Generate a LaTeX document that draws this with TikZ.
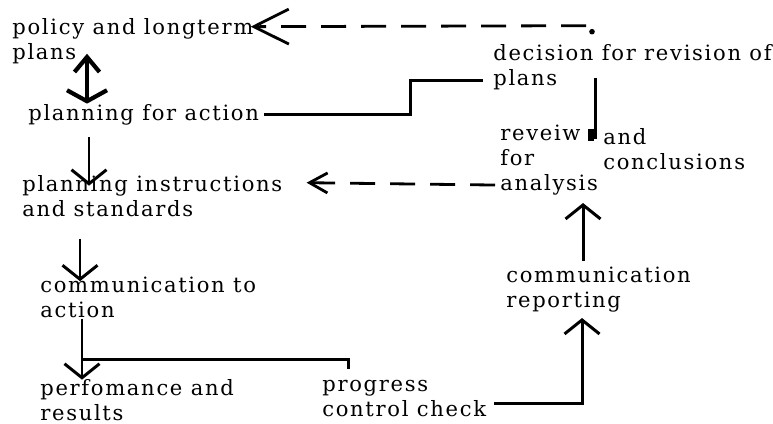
\documentclass[tikz,border=0pt]{standalone}
\usepackage{fontspec}
\setmainfont[LetterSpace=8]{DejaVu Serif}
\usetikzlibrary{arrows.meta,calc}

\begin{document}
\begin{tikzpicture}[x=0.02cm,y=-0.02cm,
	txt/.style={anchor=base west,align=left,inner sep=0pt,font=\fontsize{12}{14.2}\selectfont},
	conn/.style={line width=1.7pt},
	dconn/.style={line width=1.6pt,dash pattern=on 0.5cm off 0.3cm},
	barb/.style={-{Straight Barb[length=0.28cm,width=0.7cm]}},
	bigbarb/.style={-{Straight Barb[length=0.7cm,width=0.7cm]}},
	midbarb/.style={-{Straight Barb[length=0.36cm,width=0.4cm]}}]
	\useasboundingbox (0,0) rectangle (773,423);

	\node[txt] (pol) at (12,59) {policy and longterm\\plans}; % policy
	\node[txt] (act) at (28,120) {planning for action}; % planning
	\node[txt] (dec) at (493,85) {decision for revision of\\plans}; % decision
	\node[txt] (rev) at (500,190) {reveiw\\for\\analysis}; % review
	\node[txt] (con) at (603,169) {and\\conclusions}; % conclusions
	\node[txt] (pis) at (22,216) {planning instructions\\and standards}; % instructions
	\node[txt] (cta) at (40,317) {communication to\\action}; % communication
	\node[txt] (per) at (40,420) {perfomance and\\results}; % performance
	\node[txt] (pcc) at (322,416) {progress\\control check}; % control check
	\node[txt] (cre) at (506,307) {communication\\reporting}; % reporting

	\coordinate (fb) at ($(dec.north west)+(93,-18)$); % start of revision feedback
	\fill ($(fb)+(6,6)$) circle (1.6pt);
	\draw[dconn,bigbarb] (fb) -- ($(pol.north east)+(-3,9)$); % revision to policy
	\draw[conn,line width=2.4pt,{Straight Barb[length=0.3cm,width=0.5cm]}-{Straight Barb[length=0.22cm,width=0.8cm]}]
		($(pol.south west)+(75,-10)$) -- ($(act.north west)+(59,0)$); % policy <-> planning
	\draw[conn] ($(act.east)+(5,0)$) -| ($(dec.south west)+(-83,-9)$) -- ($(dec.south west)+(-10,-9)$); % planning to decision
	\draw[conn,barb] ($(act.south west)+(61,12)$) -- ($(pis.north west)+(67,11)$); % planning to instructions
	\draw[dconn,midbarb] ($(rev.south west)+(-5,-10)$) -- ($(pis.north east)+(24,8)$); % analysis to instructions
	\draw[conn,barb] ($(pis.south west)+(58,22)$) -- ($(cta.north west)+(40,5)$); % instructions to communication
	\draw[conn,barb] ($(cta.south west)+(42,1)$) -- ($(per.north west)+(42,1)$); % communication to performance
	\draw[conn] ($(per.north west)+(42,-19)$) -| ($(pcc.north west)+(26,-10)$); % branch to progress
	\draw[conn,barb] ($(pcc.south east)+(8,-13)$) -| ($(cre.south west)+(76,6)$); % control check to reporting
	\draw[conn,barb] ($(cre.north west)+(77,-5)$) -- ($(rev.south west)+(83,8)$); % reporting to analysis
	\draw[conn] ($(dec.south west)+(102,-12)$) -- ($(con.north west)+(-8,11)$); % decision to conclusions
	\draw[line width=3pt] ($(con.north west)+(-12,1)$) -- ($(con.north west)+(-12,13)$); % foot of bar
\end{tikzpicture}
\end{document}
